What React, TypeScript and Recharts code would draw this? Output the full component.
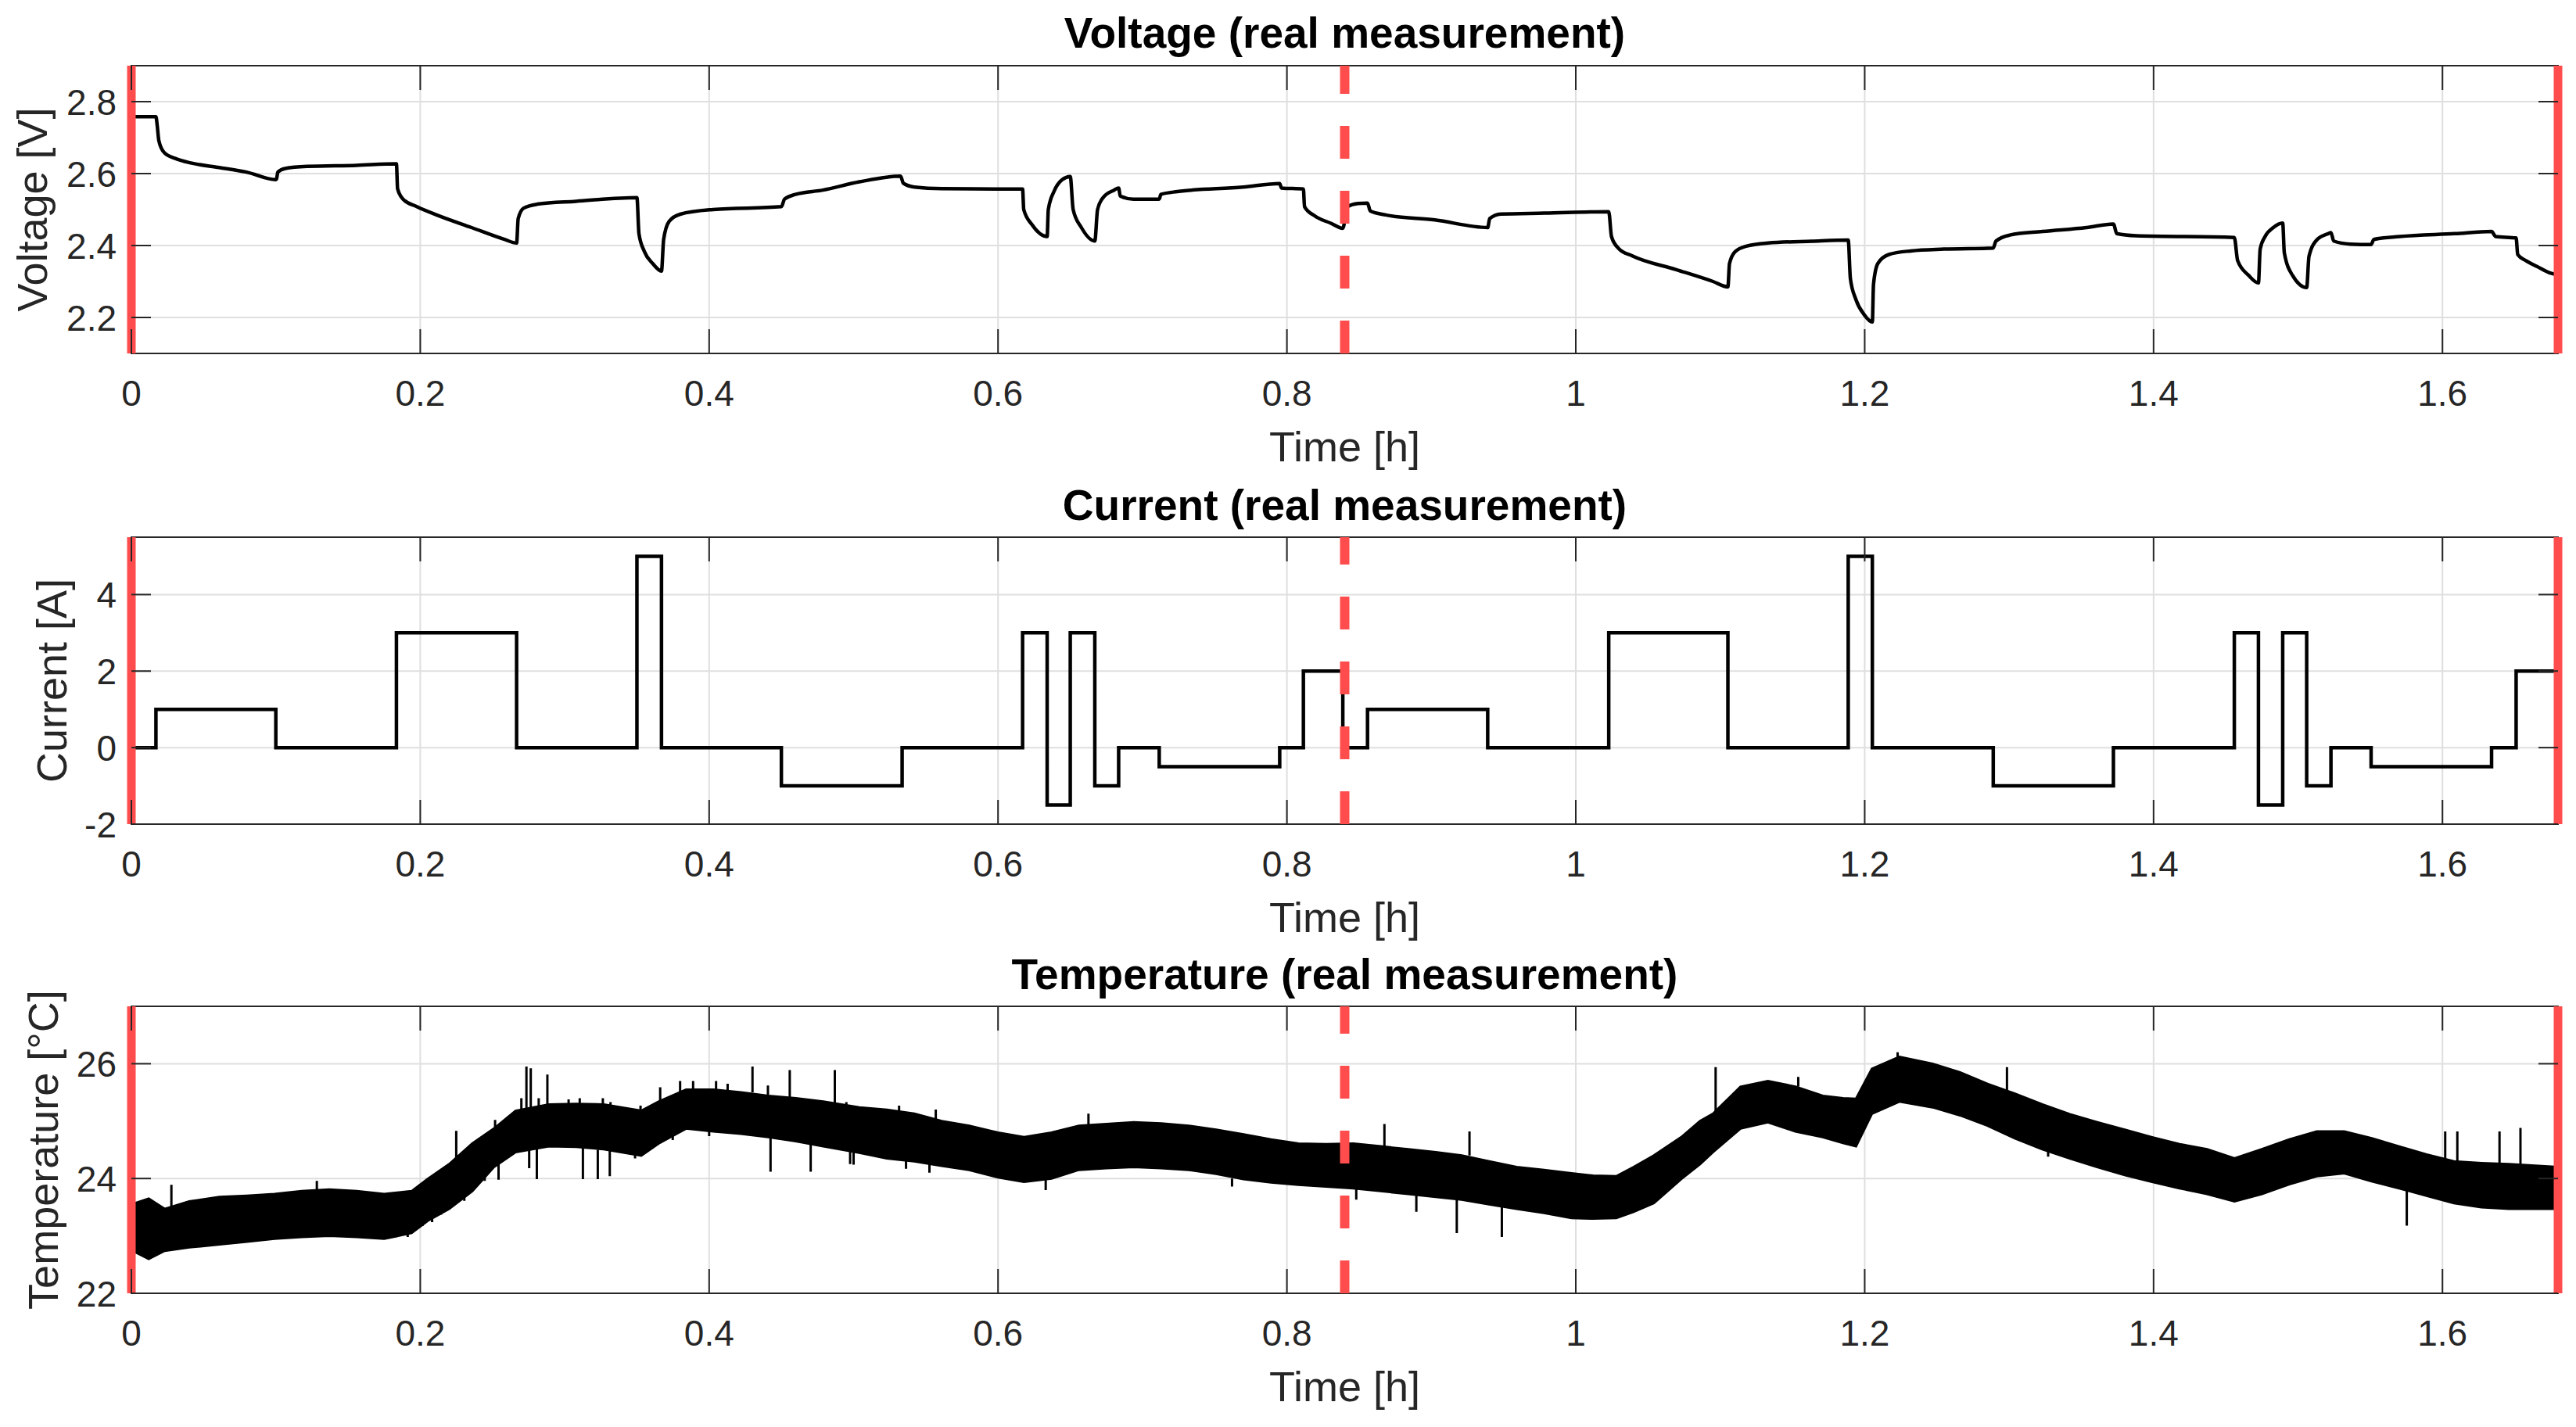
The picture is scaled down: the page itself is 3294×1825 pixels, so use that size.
import { ComposedChart, Line, Area, XAxis, YAxis, CartesianGrid, ReferenceLine, ReferenceArea } from "recharts"

// time axis [h]
const timeTicks = [0, 0.2, 0.4, 0.6, 0.8, 1, 1.2, 1.4, 1.6]
const tEnd = 1.68
const tSplit = 0.84

const voltageTicks = [2.2, 2.4, 2.6, 2.8]
const currentTicks = [-2, 0, 2, 4]
const temperatureTicks = [22, 24, 26]

// [t, V]
const voltage: [number, number][] = [
  [0, 2.758], [0.017, 2.758],
  [0.0179, 2.733], [0.019, 2.692], [0.0228, 2.658], [0.0304, 2.642], [0.0418, 2.629], [0.0608, 2.617], [0.0798, 2.604], [0.0999, 2.583],
  [0.1005, 2.585], [0.1014, 2.604], [0.1064, 2.614], [0.1216, 2.62], [0.1558, 2.623], [0.1835, 2.627],
  [0.1843, 2.558], [0.1881, 2.529], [0.1976, 2.508], [0.2127, 2.483], [0.2355, 2.45], [0.2583, 2.417], [0.2667, 2.407],
  [0.2678, 2.475], [0.2716, 2.504], [0.2811, 2.515], [0.3077, 2.523], [0.35, 2.533],
  [0.3514, 2.433], [0.3552, 2.383], [0.3609, 2.35], [0.367, 2.329],
  [0.3685, 2.417], [0.3723, 2.467], [0.3799, 2.487], [0.4027, 2.5], [0.45, 2.508],
  [0.4522, 2.529], [0.4597, 2.542], [0.4787, 2.554], [0.504, 2.577], [0.5325, 2.593],
  [0.5345, 2.573], [0.5421, 2.5625], [0.5611, 2.558], [0.617, 2.557],
  [0.6178, 2.5], [0.6235, 2.458], [0.634, 2.425],
  [0.6348, 2.5], [0.6387, 2.55], [0.6444, 2.583], [0.65, 2.592],
  [0.652, 2.5], [0.6577, 2.45], [0.667, 2.4125],
  [0.6689, 2.5], [0.6727, 2.533], [0.6803, 2.554], [0.6835, 2.56],
  [0.6846, 2.5375], [0.6937, 2.529], [0.7116, 2.529],
  [0.7127, 2.542], [0.7241, 2.55], [0.7696, 2.5625], [0.795, 2.5725],
  [0.7962, 2.56], [0.8114, 2.557],
  [0.8122, 2.508], [0.819, 2.483], [0.8304, 2.462], [0.8387, 2.448],
  [0.8418, 2.508], [0.8493, 2.517], [0.8558, 2.518],
  [0.8577, 2.496], [0.8684, 2.485], [0.9025, 2.471], [0.939, 2.45],
  [0.9404, 2.475], [0.948, 2.4875], [0.9784, 2.49], [1.0228, 2.494],
  [1.0247, 2.425], [1.0296, 2.392], [1.0391, 2.371], [1.0695, 2.333], [1.095, 2.3], [1.1053, 2.285],
  [1.1064, 2.35], [1.1103, 2.383], [1.1179, 2.398], [1.1331, 2.407], [1.1635, 2.412], [1.1886, 2.415],
  [1.1901, 2.308], [1.1939, 2.25], [1.1996, 2.208], [1.2053, 2.1875],
  [1.2061, 2.292], [1.2091, 2.35], [1.2167, 2.375], [1.2319, 2.385], [1.2548, 2.39], [1.289, 2.393],
  [1.2909, 2.4125], [1.3004, 2.429], [1.3232, 2.439], [1.3536, 2.45], [1.3722, 2.46],
  [1.3745, 2.433], [1.3878, 2.427], [1.4559, 2.4225],
  [1.4582, 2.358], [1.4658, 2.317], [1.4726, 2.296],
  [1.4738, 2.39], [1.4772, 2.425], [1.4829, 2.45], [1.4894, 2.4625],
  [1.4905, 2.38], [1.4962, 2.317], [1.506, 2.283],
  [1.5076, 2.37], [1.5133, 2.417], [1.5209, 2.433], [1.5228, 2.436],
  [1.5247, 2.4125], [1.5361, 2.404], [1.5506, 2.4025],
  [1.5525, 2.417], [1.5703, 2.425], [1.6084, 2.433], [1.634, 2.439],
  [1.6369, 2.425], [1.651, 2.421],
  [1.6521, 2.375], [1.6578, 2.358], [1.6654, 2.342], [1.675, 2.323], [1.68, 2.318],
]

// [t, A], held until the next step
const currentSteps: [number, number][] = [
  [0, 0], [0.017, 1], [0.1, 0], [0.1835, 3], [0.2667, 0], [0.35, 5], [0.367, 0], [0.45, -1],
  [0.5336, 0], [0.617, 3], [0.634, -1.5], [0.65, 3], [0.667, -1], [0.6835, 0], [0.7116, -0.5],
  [0.795, 0], [0.8114, 2], [0.8387, 0], [0.8558, 1], [0.939, 0], [1.0228, 3], [1.1053, 0],
  [1.1886, 5], [1.2053, 0], [1.289, -1], [1.3722, 0], [1.4559, 3], [1.4726, -1.5], [1.4894, 3],
  [1.506, -1], [1.5228, 0], [1.5506, -0.5], [1.634, 0], [1.651, 2], [1.68, 2],
]

// [t, low, high] envelope of the noisy temperature trace
const temperatureBand: [number, number, number][] = [
  [0, 22.75, 23.55], [0.012, 22.6, 23.65], [0.023, 22.74, 23.47], [0.04, 22.8, 23.6], [0.061, 22.85, 23.68],
  [0.08, 22.9, 23.7], [0.099, 22.95, 23.73], [0.118, 22.98, 23.78], [0.137, 23.0, 23.81], [0.156, 22.98, 23.78],
  [0.175, 22.95, 23.73], [0.194, 23.05, 23.78], [0.205, 23.26, 23.99], [0.22, 23.47, 24.25], [0.236, 23.78, 24.61],
  [0.251, 24.2, 24.87], [0.266, 24.46, 25.18], [0.289, 24.56, 25.29], [0.308, 24.55, 25.3], [0.327, 24.51, 25.29],
  [0.353, 24.4, 25.18], [0.365, 24.61, 25.34], [0.384, 24.87, 25.55], [0.403, 24.82, 25.55], [0.422, 24.78, 25.5],
  [0.441, 24.72, 25.44], [0.46, 24.65, 25.4], [0.479, 24.56, 25.34], [0.504, 24.45, 25.24], [0.523, 24.35, 25.2],
  [0.542, 24.3, 25.13], [0.561, 24.22, 25.0], [0.58, 24.15, 24.92], [0.6, 24.02, 24.8], [0.618, 23.94, 24.72],
  [0.637, 24.0, 24.8], [0.656, 24.15, 24.92], [0.675, 24.18, 24.95], [0.694, 24.2, 24.98], [0.713, 24.18, 24.96],
  [0.732, 24.15, 24.92], [0.751, 24.08, 24.85], [0.77, 23.99, 24.77], [0.789, 23.93, 24.68], [0.808, 23.89, 24.61],
  [0.827, 23.86, 24.6], [0.846, 23.83, 24.61], [0.865, 23.78, 24.56], [0.884, 23.73, 24.51], [0.903, 23.68, 24.46],
  [0.921, 23.63, 24.4], [0.94, 23.55, 24.3], [0.959, 23.47, 24.2], [0.978, 23.4, 24.15], [0.997, 23.31, 24.09],
  [1.012, 23.3, 24.05], [1.028, 23.31, 24.04], [1.04, 23.42, 24.2], [1.054, 23.57, 24.4], [1.073, 23.99, 24.72],
  [1.086, 24.25, 25.0], [1.095, 24.46, 25.13], [1.114, 24.87, 25.6], [1.133, 24.98, 25.7], [1.152, 24.82, 25.6],
  [1.171, 24.72, 25.44], [1.185, 24.62, 25.4], [1.194, 24.56, 25.39], [1.205, 25.13, 25.91], [1.224, 25.34, 26.12],
  [1.247, 25.24, 26.0], [1.266, 25.1, 25.85], [1.285, 24.92, 25.65], [1.304, 24.7, 25.48], [1.323, 24.51, 25.29],
  [1.342, 24.35, 25.12], [1.361, 24.2, 24.98], [1.38, 24.06, 24.85], [1.399, 23.94, 24.72], [1.418, 23.83, 24.6],
  [1.437, 23.73, 24.51], [1.456, 23.6, 24.35], [1.475, 23.73, 24.51], [1.494, 23.9, 24.68], [1.513, 24.04, 24.82],
  [1.532, 24.09, 24.82], [1.551, 23.95, 24.7], [1.57, 23.83, 24.56], [1.589, 23.7, 24.42], [1.608, 23.57, 24.3],
  [1.627, 23.5, 24.27], [1.646, 23.47, 24.25], [1.68, 23.47, 24.2],
]

// [t, from, to] single-sample outliers visible in the trace
const temperatureSpikes: [number, number, number][] = [
  [0.0277, 23.5, 23.89], [0.1284, 23.7, 23.96], [0.2249, 24.3, 24.83], [0.2735, 25.2, 25.95], [0.2765, 25.2, 25.92],
  [0.288, 25.25, 25.81], [0.2807, 24.6, 23.99], [0.2754, 24.5, 24.18], [0.3126, 24.55, 23.99], [0.3229, 24.5, 23.99],
  [0.3312, 24.5, 24.04], [0.3799, 25.5, 25.7], [0.43, 25.5, 25.95], [0.4558, 25.4, 25.89], [0.487, 25.3, 25.89],
  [0.4425, 24.7, 24.12], [0.4703, 24.65, 24.12], [0.4976, 24.5, 24.25], [0.6626, 24.9, 25.13], [0.633, 24.0, 23.8],
  [0.762, 24.0, 23.86], [0.848, 23.83, 23.63], [0.8675, 24.56, 24.95], [0.8896, 23.73, 23.42], [0.9176, 23.65, 23.05],
  [0.9264, 24.4, 24.82], [0.9488, 23.5, 22.98], [1.0968, 25.13, 25.94], [1.154, 25.6, 25.77], [1.2228, 26.0, 26.2],
  [1.2985, 25.5, 25.94], [1.327, 24.5, 24.38], [1.5753, 23.83, 23.18], [1.6019, 24.3, 24.82], [1.6103, 24.3, 24.82],
  [1.6395, 24.27, 24.82], [1.654, 24.25, 24.88],
  [0.2518, 24.7, 25.02], [0.27, 25.0, 25.4], [0.282, 25.1, 25.4], [0.3027, 25.1, 25.38], [0.3104, 25.1, 25.4],
  [0.3264, 25.1, 25.4], [0.3317, 25.1, 25.33], [0.3525, 25.0, 25.27], [0.3661, 25.2, 25.59], [0.3889, 25.4, 25.7],
  [0.4048, 25.4, 25.7], [0.4128, 25.4, 25.65], [0.4407, 25.3, 25.62], [0.4726, 25.2, 25.37], [0.495, 25.1, 25.33],
  [0.5315, 25.0, 25.27], [0.5569, 24.9, 25.2],
  [0.2143, 23.5, 23.37], [0.2082, 23.4, 23.24], [0.2015, 23.3, 23.17], [0.1913, 23.15, 22.98], [0.184, 23.1, 22.98],
  [0.2305, 23.8, 23.61], [0.2446, 24.1, 23.96], [0.2542, 24.3, 23.98], [0.3487, 24.5, 24.35], [0.3748, 24.8, 24.67],
  [0.4, 24.9, 24.74], [0.5, 24.5, 24.24], [0.5363, 24.4, 24.17], [0.5525, 24.35, 24.1],
]

const W = 3294
const LEFT = 168
const RIGHT = 3271
const AXIS = "#262626"
const GRID = "#dfdfdf"
const RED = "#ff4d4d"
const FONT = "'Liberation Sans', Arial, Helvetica, sans-serif"

const panels = [
  { top: 0, height: 610, plotTop: 84, plotBottom: 452, domain: [2.1, 2.9], ticks: voltageTicks },
  { top: 610, height: 610, plotTop: 687, plotBottom: 1054, domain: [-2, 5.5], ticks: currentTicks },
  { top: 1220, height: 605, plotTop: 1287, plotBottom: 1654, domain: [22, 27], ticks: temperatureTicks },
]

const X_AXIS_H = 100

function makeXTick(plotH: number) {
  return (props: any) => {
    const { x, y, payload } = props
    return (
      <g>
        <line x1={x} x2={x} y1={y} y2={y - 31} stroke={AXIS} strokeWidth={2} />
        <line x1={x} x2={x} y1={y - plotH} y2={y - plotH + 31} stroke={AXIS} strokeWidth={2} />
        <text x={x} y={y + 67} textAnchor="middle" fontSize={46} fill={AXIS} fontFamily={FONT}>
          {String(payload.value)}
        </text>
      </g>
    )
  }
}

function YTick(props: any) {
  const { y, payload } = props
  return (
    <g>
      <line x1={LEFT} x2={LEFT + 25} y1={y} y2={y} stroke={AXIS} strokeWidth={2} />
      <line x1={RIGHT - 25} x2={RIGHT} y1={y} y2={y} stroke={AXIS} strokeWidth={2} />
      <text x={LEFT - 19} y={y + 17} textAnchor="end" fontSize={46} fill={AXIS} fontFamily={FONT}>
        {String(payload.value)}
      </text>
    </g>
  )
}

function Panel({ index, children }: { index: number; children: any }) {
  const p = panels[index]
  const plotH = p.plotBottom - p.plotTop
  return (
    <div style={{ position: "absolute", left: 0, top: p.top, width: W, height: p.height }}>
      <ComposedChart
        width={W}
        height={p.height}
        margin={{ top: p.plotTop - p.top, right: W - RIGHT, bottom: p.top + p.height - p.plotBottom - X_AXIS_H, left: 0 }}
      >
        <CartesianGrid stroke={GRID} strokeWidth={2} />
        <XAxis
          dataKey="t"
          type="number"
          domain={[0, tEnd]}
          ticks={timeTicks}
          allowDataOverflow
          height={X_AXIS_H}
          tickSize={0}
          tickMargin={0}
          tickLine={false}
          axisLine={false}
          tick={makeXTick(plotH)}
        />
        <YAxis
          type="number"
          domain={p.domain}
          ticks={p.ticks}
          allowDataOverflow
          width={LEFT}
          tickSize={0}
          tickMargin={0}
          tickLine={false}
          axisLine={false}
          tick={YTick}
        />
        {children}
        <ReferenceArea x1={0} x2={tEnd} y1={p.domain[0]} y2={p.domain[1]} fill="none" stroke={AXIS} strokeWidth={2} />
        <ReferenceLine x={tSplit} stroke={RED} strokeWidth={12} strokeDasharray="42 41" />
        <ReferenceLine x={0} stroke={RED} strokeWidth={11} />
        <ReferenceLine x={tEnd} stroke={RED} strokeWidth={11} />
      </ComposedChart>
    </div>
  )
}

export default function App() {
  const voltageData = voltage.map(([t, v]) => ({ t, v }))
  const currentData = currentSteps.map(([t, i]) => ({ t, i }))
  const bandData = temperatureBand.map(([t, lo, hi]) => ({ t, range: [lo, hi] }))
  const spikeData = temperatureSpikes.flatMap(([t, a, b]) => [
    { t, y: a },
    { t, y: b },
    { t, y: null },
  ])

  const titles = ["Voltage (real measurement)", "Current (real measurement)", "Temperature (real measurement)"]
  const titleBase = [61, 665, 1265]
  const yLabels = ["Voltage [V]", "Current [A]", "Temperature [°C]"]
  const yLabelX = [60, 85, 74]
  const midX = (LEFT + RIGHT) / 2

  return (
    <div style={{ position: "absolute", left: 0, top: 0, width: W, height: 1825, background: "#fff", fontFamily: FONT }}>
      <Panel index={0}>
        <Line data={voltageData} dataKey="v" type="monotoneX" stroke="#000" strokeWidth={4.5} dot={false} isAnimationActive={false} />
      </Panel>
      <Panel index={1}>
        <Line data={currentData} dataKey="i" type="stepAfter" stroke="#000" strokeWidth={4.5} dot={false} isAnimationActive={false} />
      </Panel>
      <Panel index={2}>
        <Area
          data={bandData}
          dataKey="range"
          type="linear"
          stroke="#000"
          strokeWidth={3}
          fill="#000"
          fillOpacity={1}
          dot={false}
          activeDot={false}
          isAnimationActive={false}
        />
        <Line data={spikeData} dataKey="y" type="linear" stroke="#000" strokeWidth={3} dot={false} isAnimationActive={false} />
      </Panel>

      <svg width={W} height={1825} style={{ position: "absolute", left: 0, top: 0, pointerEvents: "none" }}>
        {panels.map((p, i) => (
          <g key={i} fontFamily={FONT}>
            <text x={midX} y={titleBase[i]} textAnchor="middle" fontSize={55} fontWeight="bold" fill="#000">
              {titles[i]}
            </text>
            <text x={midX} y={p.plotBottom + 138} textAnchor="middle" fontSize={54} fill={AXIS}>
              Time [h]
            </text>
            <text
              x={yLabelX[i]}
              y={(p.plotTop + p.plotBottom) / 2}
              transform={`rotate(-90 ${yLabelX[i]} ${(p.plotTop + p.plotBottom) / 2})`}
              textAnchor="middle"
              fontSize={54}
              fill={AXIS}
            >
              {yLabels[i]}
            </text>
          </g>
        ))}
      </svg>
    </div>
  )
}
